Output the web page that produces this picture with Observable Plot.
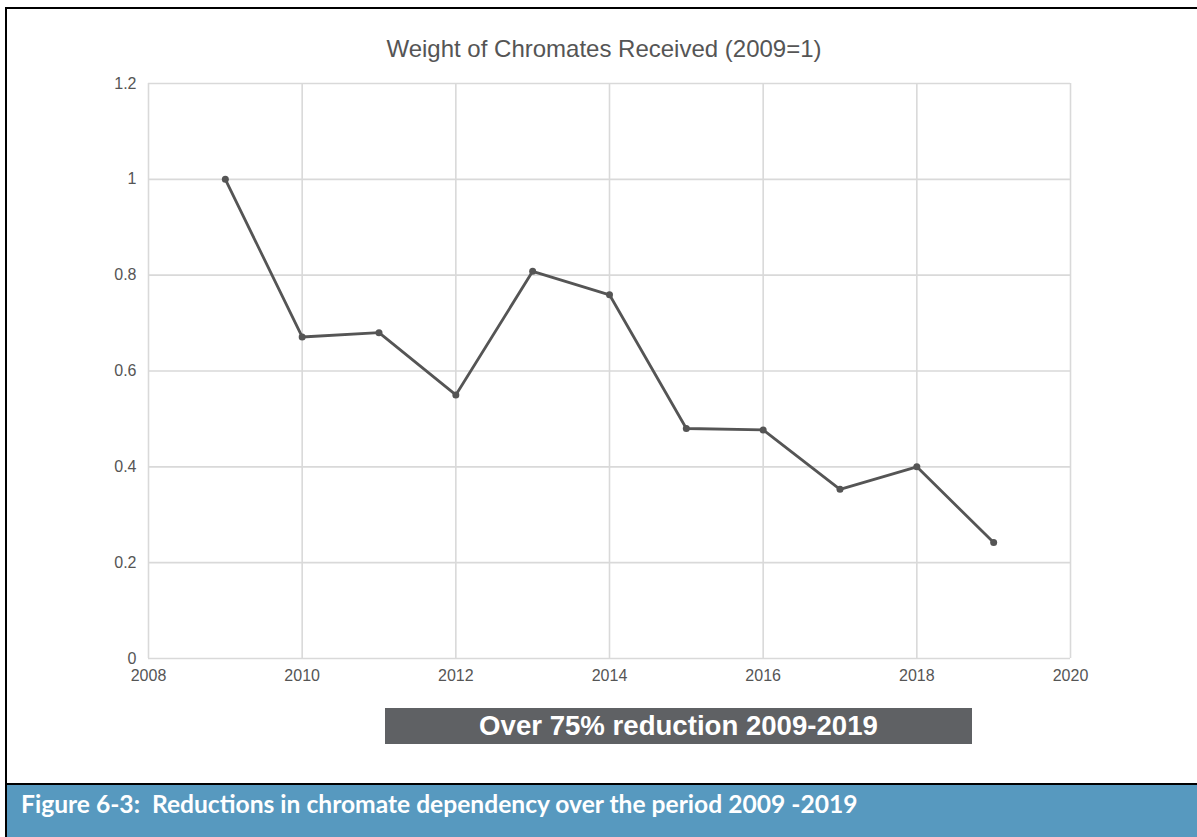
<!DOCTYPE html>
<html>
<head>
<meta charset="utf-8">
<script src="https://cdn.jsdelivr.net/npm/d3@7"></script>
<script src="https://cdn.jsdelivr.net/npm/@observablehq/plot@0.6"></script>
<style>
  html, body { margin: 0; padding: 0; background: #fff; }
  #fig { position: relative; width: 1197px; height: 837px; overflow: hidden; background: #fff; }
  #chart { position: absolute; left: 0; top: 0; }
  #chart svg { background: transparent; }
  .border-top { position: absolute; left: 5px; top: 7px; width: 1192px; height: 2px; background: #000; }
  .border-left { position: absolute; left: 5px; top: 7px; width: 2px; height: 830px; background: #000; }
  .border-bottom { position: absolute; left: 5px; top: 783px; width: 1192px; height: 2px; background: #000; }
  #title { position: absolute; left: 0; width: 1208px; top: 37px; text-align: center;
           font-family: "Liberation Sans", Arial, sans-serif; font-size: 24px; color: #555555; line-height: 1; }
  #banner { position: absolute; left: 385px; top: 708px; width: 587px; height: 36px; background: #5f6164;
            color: #fff; font-family: "Liberation Sans", Arial, sans-serif; font-weight: bold; font-size: 27.6px;
            line-height: 36px; text-align: center; }
  #caption { position: absolute; left: 7px; top: 785px; width: 1190px; height: 52px; background: #5799bf;
             color: #fff; font-family: Lato, "Open Sans", sans-serif; font-weight: 700; font-size: 24.6px;
             line-height: 1; }
  #caption span { position: absolute; left: 14px; top: 7px; white-space: pre; }
</style>
</head>
<body>
<div id="fig">
  <div id="chart"></div>
  <div id="title"></div>
  <div id="banner"></div>
  <div id="caption"><span></span></div>
  <div class="border-top"></div>
  <div class="border-left"></div>
  <div class="border-bottom"></div>
</div>
<script>
// Relative weight of chromates received each year (2009 = 1)
const years = [2009, 2010, 2011, 2012, 2013, 2014, 2015, 2016, 2017, 2018, 2019];
const weights = [1.0, 0.671, 0.68, 0.55, 0.808, 0.759, 0.48, 0.477, 0.353, 0.4, 0.242];

// Axis ticks
const xTicks = [2008, 2010, 2012, 2014, 2016, 2018, 2020];
const yTicks = [0, 0.2, 0.4, 0.6, 0.8, 1, 1.2];

// Text
const titleText = "Weight of Chromates Received (2009=1)";
const bannerText = "Over 75% reduction 2009-2019";
const captionText = "Figure 6-3:  Reductions in chromate dependency over the period 2009 -2019";

const data = years.map((year, i) => ({year, weight: weights[i]}));

const gridColor = "#d9d9d9";
const lineColor = "#555555";
const labelColor = "#555555";

const chart = Plot.plot({
  width: 1197,
  height: 700,
  marginLeft: 148,
  marginRight: 127,
  marginTop: 83,
  marginBottom: 42,
  style: {fontFamily: "'Liberation Sans', Arial, sans-serif", fontSize: "16px", color: labelColor, background: "transparent"},
  x: {domain: [2008, 2020], label: null},
  y: {domain: [0, 1.2], label: null},
  marks: [
    Plot.gridX(xTicks, {stroke: gridColor, strokeOpacity: 1, strokeWidth: 1.6}),
    Plot.gridY(yTicks, {stroke: gridColor, strokeOpacity: 1, strokeWidth: 1.6}),
    Plot.axisX(xTicks, {tickSize: 0, tickPadding: 11, tickFormat: d => String(d), fill: labelColor, fontSize: 16, label: null}),
    Plot.axisY(yTicks, {tickSize: 0, tickPadding: 12, tickFormat: d3.format("~g"), fill: labelColor, fontSize: 16, label: null}),
    Plot.line(data, {x: "year", y: "weight", stroke: lineColor, strokeWidth: 2.8}),
    Plot.dot(data, {x: "year", y: "weight", r: 3.5, fill: lineColor, stroke: "none"})
  ]
});

document.getElementById("chart").append(chart);
document.getElementById("title").textContent = titleText;
document.getElementById("banner").textContent = bannerText;
document.querySelector("#caption span").textContent = captionText;
</script>
</body>
</html>
